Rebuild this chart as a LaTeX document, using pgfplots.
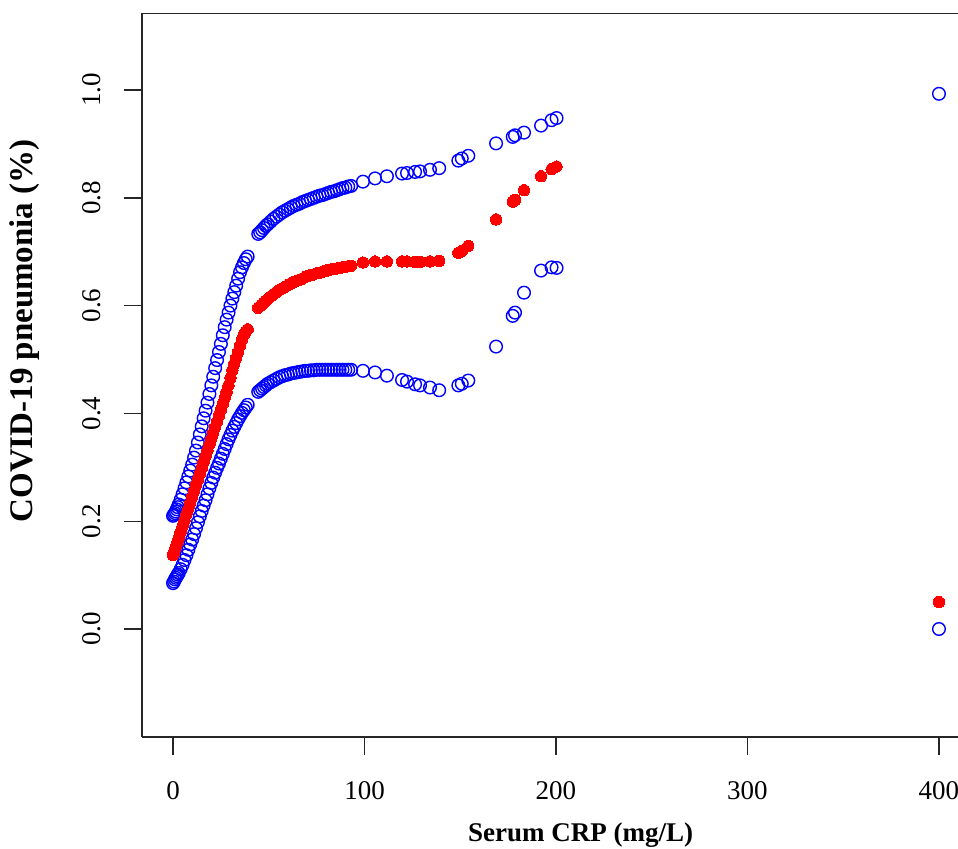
\documentclass[border=0pt]{standalone}
\usepackage{fontspec}
\setmainfont{Liberation Serif}
\usepackage{pgfplots}
\pgfplotsset{compat=1.18}
\usepackage{pgfplotstable}

% CRP value, lower CI, estimate, upper CI
\pgfplotstableread{
x lo est hi
0 0.085 0.137 0.210
0.5 0.088 0.142 0.212
1 0.092 0.148 0.215
1.5 0.095 0.153 0.218
2 0.098 0.159 0.222
2.5 0.101 0.164 0.226
3 0.104 0.169 0.231
4 0.111 0.180 0.240
5 0.119 0.191 0.250
6 0.128 0.202 0.261
7 0.137 0.213 0.272
8 0.147 0.223 0.283
9 0.157 0.234 0.294
10 0.166 0.245 0.305
11 0.176 0.256 0.318
12 0.187 0.267 0.331
13 0.198 0.277 0.346
14 0.209 0.288 0.361
15 0.219 0.299 0.376
16 0.229 0.310 0.391
17 0.239 0.321 0.405
18 0.250 0.331 0.420
19 0.261 0.342 0.436
20 0.271 0.353 0.452
21 0.281 0.364 0.468
22 0.290 0.375 0.484
23 0.299 0.385 0.499
24 0.307 0.396 0.514
25 0.316 0.407 0.529
26 0.325 0.418 0.545
27 0.334 0.429 0.560
28 0.343 0.440 0.574
29 0.352 0.452 0.587
30 0.360 0.466 0.600
31 0.368 0.480 0.613
32 0.375 0.492 0.625
33 0.382 0.503 0.637
34 0.389 0.514 0.650
35 0.395 0.526 0.662
36 0.401 0.537 0.671
37 0.406 0.546 0.679
38 0.411 0.552 0.686
39 0.416 0.556 0.691
44.5 0.440 0.596 0.733
45.5 0.443 0.599 0.736
46.5 0.446 0.602 0.740
47.5 0.449 0.606 0.744
48.5 0.452 0.609 0.748
49.5 0.455 0.612 0.751
51 0.458 0.617 0.756
52.5 0.461 0.621 0.761
54 0.464 0.625 0.765
55.5 0.467 0.629 0.769
57 0.469 0.632 0.773
58.5 0.471 0.635 0.776
60 0.472 0.638 0.779
61.5 0.474 0.641 0.782
63 0.475 0.644 0.785
64.5 0.476 0.646 0.787
66 0.477 0.648 0.789
67.5 0.478 0.650 0.792
69 0.479 0.653 0.794
70.5 0.479 0.655 0.796
72 0.480 0.657 0.798
73.5 0.480 0.658 0.800
75 0.481 0.660 0.802
76.5 0.481 0.661 0.804
78 0.481 0.663 0.805
79.5 0.481 0.664 0.807
81 0.481 0.666 0.809
82.5 0.481 0.667 0.811
84 0.481 0.668 0.812
85.5 0.481 0.669 0.814
87 0.481 0.670 0.816
88.5 0.481 0.671 0.818
90 0.481 0.672 0.819
91.5 0.481 0.673 0.821
93 0.481 0.674 0.822
99.2 0.479 0.680 0.830
105.5 0.476 0.682 0.836
111.7 0.470 0.682 0.840
119.6 0.462 0.682 0.845
122.2 0.459 0.682 0.846
126.4 0.454 0.681 0.848
129 0.452 0.681 0.849
134.2 0.448 0.682 0.852
139 0.443 0.683 0.855
149 0.452 0.698 0.869
150.8 0.455 0.701 0.873
154.2 0.461 0.711 0.878
168.7 0.524 0.760 0.901
177.4 0.581 0.793 0.913
178.6 0.587 0.796 0.916
183.3 0.624 0.814 0.921
192.2 0.665 0.840 0.934
197.7 0.671 0.853 0.944
200.3 0.670 0.858 0.948
400 0.000 0.050 0.993
}\crpdata

\begin{document}
\begin{tikzpicture}
\begin{axis}[
  name=main,
  width=413.8pt, height=362pt, scale only axis,
  xmin=-16.2, xmax=416, ymin=-0.2004, ymax=1.1429,
  axis lines=left,
  axis line style={-, line width=0.9pt, black!85},
  xtick={0,100,200,300,400},
  ytick={0,0.2,0.4,0.6,0.8,1.0},
  tick align=outside,
  major tick length=9pt,
  major tick style={line width=0.7pt, black!85},
  tick label style={font=\fontsize{13.5}{16}\selectfont},
  xticklabel shift=9.5pt, yticklabel shift=8pt,
  /pgf/number format/assume math mode=true,
  yticklabel style={rotate=90, anchor=south,
    /pgf/number format/.cd, fixed, fixed zerofill, precision=1},
  xlabel={Serum CRP (mg/L)},
  ylabel={COVID-19 pneumonia (\%)},
  every axis x label/.style={at={(axis description cs:0.53,-0.145)},
    anchor=base, font=\bfseries\fontsize{13.5}{16}\selectfont},
  every axis y label/.style={at={(axis description cs:-0.142,0.561)},
    rotate=90, anchor=center, font=\bfseries\fontsize{16.5}{20}\selectfont},
]
\addplot[only marks, mark=o, mark size=3.15pt,
  mark options={draw=blue, line width=0.7pt}] table[x=x, y=hi]{\crpdata};
\addplot[only marks, mark=o, mark size=3.15pt,
  mark options={draw=blue, line width=0.7pt}] table[x=x, y=lo]{\crpdata};
\addplot[only marks, mark=*, mark size=2.85pt,
  mark options={draw=red, fill=red, line width=0pt}] table[x=x, y=est]{\crpdata};
% top edge of the frame; the right edge lies outside the cropped picture
\draw[line width=0.9pt, black!85] (rel axis cs:0,1) -- (rel axis cs:1,1);
\end{axis}
\pgfresetboundingbox
\path[use as bounding box] ([xshift=-71pt,yshift=-55.5pt]main.south west)
  rectangle ([xshift=-5.8pt,yshift=6.5pt]main.north east);
\end{tikzpicture}
\end{document}
